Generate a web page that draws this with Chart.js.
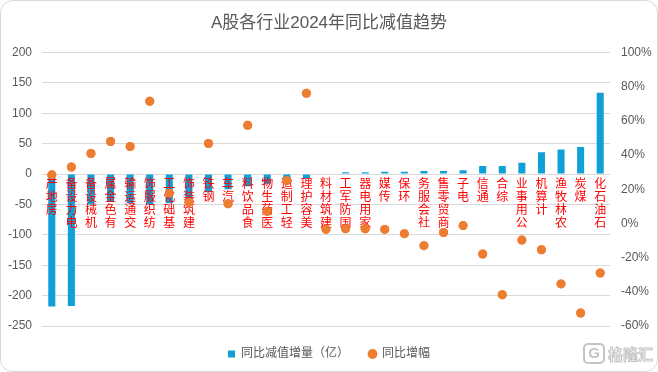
<!DOCTYPE html>
<html>
<head>
<meta charset="utf-8">
<script src="https://cdn.jsdelivr.net/npm/chart.js@4.4.1/dist/chart.umd.min.js"></script>
<style>
  html, body { margin: 0; padding: 0; background: #fff; }
</style>
</head>
<body>
<canvas id="Impair_Chart" width="658" height="372"></canvas>
<script>
const industries = ['房地产', '电力设备', '机械设备', '有色金属', '交通运输', '纺织服饰', '基础化工', '建筑装饰',
  '钢铁', '汽车', '食品饮料', '医药生物', '轻工制造', '美容护理', '建筑材料', '国防军工', '家用电器', '传媒',
  '环保', '社会服务', '商贸零售', '电子', '通信', '综合', '公用事业', '计算机', '农林牧渔', '煤炭', '石油石化'];
// 同比减值增量（亿）
const impairChange = [-218, -217, -50, -46, -48, -50, -48, -48, -30, -25, -20, -16, -12, -8, -1,
  2.7, 2.7, 3.8, 3.8, 5, 5, 6, 13, 13, 18.6, 35.6, 40.5, 44.3, 133.5];
// 同比增幅 (%)
const growthPct = [28.4, 33, 40.9, 47.9, 45, 71.4, 17.7, 12.4, 46.7, 11.5, 57.4, 7, 25.1, 76.1, -3.4,
  -3.1, -3.1, -3.5, -6.0, -13.0, -5.3, -1.3, -17.9, -41.7, -9.7, -15.4, -35.4, -52.4, -29.0];
const leftTicks = [-250, -200, -150, -100, -50, 0, 50, 100, 150, 200];
const rightTicks = [-60, -40, -20, 0, 20, 40, 60, 80, 100];

const grey = '#595959';
Chart.defaults.font.family = "'Liberation Sans', 'Noto Sans CJK SC', sans-serif";
Chart.defaults.color = grey;

// labels read bottom-to-top, one upright character per line
const verticalLabels = industries.map(s => s.split('').reverse());

const frame = {
  id: 'frame',
  beforeDraw(chart) {
    const ctx = chart.ctx;
    ctx.save();
    ctx.fillStyle = '#fff';
    ctx.fillRect(0, 0, chart.width, chart.height);
    ctx.beginPath();
    ctx.roundRect(0.5, 0.5, chart.width - 1, chart.height - 1, 12);
    ctx.strokeStyle = '#d9d9d9';
    ctx.lineWidth = 1;
    ctx.stroke();
    ctx.restore();
  },
  afterLayout(chart) {
    chart.legend.top += 2;
    chart.legend.bottom += 2;
  },
  afterDraw(chart) {
    // dots go on top of the category labels
    chart.getDatasetMeta(1).controller.draw();
    // watermark
    const ctx = chart.ctx;
    ctx.save();
    ctx.strokeStyle = '#c4c4c4';
    ctx.lineWidth = 2;
    ctx.beginPath();
    ctx.roundRect(584, 344, 20, 19, 4);
    ctx.stroke();
    ctx.font = "bold 15px 'Liberation Sans'";
    ctx.fillStyle = '#c4c4c4';
    ctx.textAlign = 'center';
    ctx.textBaseline = 'middle';
    ctx.fillText('G', 594, 354);
    ctx.font = "bold 15px 'Noto Sans CJK SC'";
    ctx.textAlign = 'left';
    ctx.lineWidth = 1;
    ctx.strokeText('格隆汇', 608, 354);
    ctx.restore();
  }
};

new Chart(document.getElementById('Impair_Chart'), {
  type: 'bar',
  data: {
    labels: verticalLabels,
    datasets: [
      {
        type: 'bar',
        label: '同比减值增量（亿）',
        data: impairChange,
        backgroundColor: '#109fd6',
        barPercentage: 0.36,
        categoryPercentage: 1,
        yAxisID: 'y',
        pointStyle: 'rect'
      },
      {
        type: 'line',
        label: '同比增幅',
        data: growthPct,
        showLine: false,
        pointRadius: 4.5,
        pointBackgroundColor: '#ed7d31',
        pointBorderWidth: 0,
        backgroundColor: '#ed7d31',
        borderColor: '#ed7d31',
        pointStyle: 'circle',
        yAxisID: 'y1'
      }
    ]
  },
  options: {
    responsive: false,
    animation: false,
    layout: { padding: { left: 0, right: 0, top: 0, bottom: 4 } },
    plugins: {
      title: {
        display: true,
        text: 'A股各行业2024年同比减值趋势',
        color: grey,
        font: { size: 17, weight: 'normal', family: "'Liberation Sans', 'Noto Sans CJK SC', sans-serif" },
        padding: { top: 13, bottom: 19 }
      },
      legend: {
        position: 'bottom',
        labels: {
          usePointStyle: true,
          boxWidth: 7,
          boxHeight: 7,
          padding: 20,
          color: grey,
          font: { size: 12 }
        }
      },
      tooltip: { enabled: false }
    },
    scales: {
      x: {
        position: { y: 0 },
        grid: { display: false, drawTicks: false },
        border: { display: false },
        ticks: {
          z: 1,
          color: '#ff0000',
          autoSkip: false,
          maxRotation: 0,
          padding: 3,
          font: { size: 12, lineHeight: 1.07, family: "'Noto Sans CJK SC', sans-serif" }
        }
      },
      y: {
        position: 'left',
        min: -250,
        max: 200,
        afterBuildTicks: scale => { scale.ticks = leftTicks.map(v => ({ value: v })); },
        afterFit: scale => { scale.width = 42; },
        grid: { color: '#d9d9d9', drawTicks: false },
        border: { display: false },
        ticks: { padding: 10, color: grey, font: { size: 12 } }
      },
      y1: {
        position: 'right',
        min: -60,
        max: 100,
        afterBuildTicks: scale => { scale.ticks = rightTicks.map(v => ({ value: v })); },
        afterFit: scale => { scale.width = 48; },
        grid: { drawOnChartArea: false, drawTicks: false },
        border: { display: false },
        ticks: { padding: 11, color: grey, font: { size: 12 }, callback: v => v + '%' }
      }
    }
  },
  plugins: [frame]
});
</script>
</body>
</html>
